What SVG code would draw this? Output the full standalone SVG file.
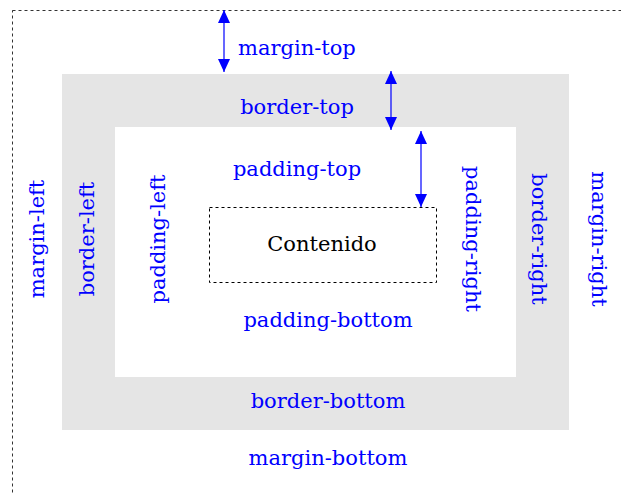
<svg xmlns="http://www.w3.org/2000/svg" width="621" height="493" viewBox="0 0 621 493">
<style>
.lbl{font-family:"DejaVu Serif","Liberation Serif",serif;font-size:21px;fill:#0000ff}
.c{text-anchor:middle}
.content{font-family:"DejaVu Serif","Liberation Serif",serif;font-size:21px;fill:#000;text-anchor:middle}
.arr{stroke:#0000ff;stroke-width:1.2;fill:none;marker-start:url(#ah);marker-end:url(#ah)}
</style>
<defs>
<marker id="ah" viewBox="0 0 13 12" refX="13" refY="6" markerWidth="13" markerHeight="12" markerUnits="userSpaceOnUse" orient="auto-start-reverse">
<path d="M0,0 L13,6 L0,12 Z" fill="#0000ff"/>
</marker>
</defs>
<rect width="621" height="493" fill="#fff"/>
<g id="margin">
<rect x="12.5" y="10.5" width="700" height="600" fill="none" stroke="#333" stroke-dasharray="3,3"/>
<text class="lbl" x="238" y="55">margin-top</text>
<text class="lbl c" x="328" y="465">margin-bottom</text>
<text class="lbl c" transform="translate(44,239) rotate(-90)">margin-left</text>
<text class="lbl c" transform="translate(592,239) rotate(90)">margin-right</text>
</g>
<g id="border">
<rect x="62" y="74" width="507" height="356" fill="#e5e5e5"/>
<text class="lbl c" x="297" y="114">border-top</text>
<text class="lbl c" x="328" y="408">border-bottom</text>
<text class="lbl c" transform="translate(94,239) rotate(-90)">border-left</text>
<text class="lbl c" transform="translate(532,239) rotate(90)">border-right</text>
</g>
<g id="padding">
<rect x="115" y="127" width="401" height="250" fill="#fff"/>
<text class="lbl c" x="297" y="176">padding-top</text>
<text class="lbl c" x="328" y="327">padding-bottom</text>
<text class="lbl c" transform="translate(165,239) rotate(-90)">padding-left</text>
<text class="lbl c" transform="translate(466,239) rotate(90)">padding-right</text>
</g>
<g id="content">
<rect x="209.5" y="207.5" width="227" height="75" fill="none" stroke="#000" stroke-dasharray="3,3"/>
<text class="content" x="322" y="251">Contenido</text>
</g>
<g id="connectors">
<line class="arr" x1="224" y1="10" x2="224" y2="72"/>
<line class="arr" x1="391" y1="71" x2="391" y2="130"/>
<line class="arr" x1="421" y1="131" x2="421" y2="207"/>
</g>
</svg>
